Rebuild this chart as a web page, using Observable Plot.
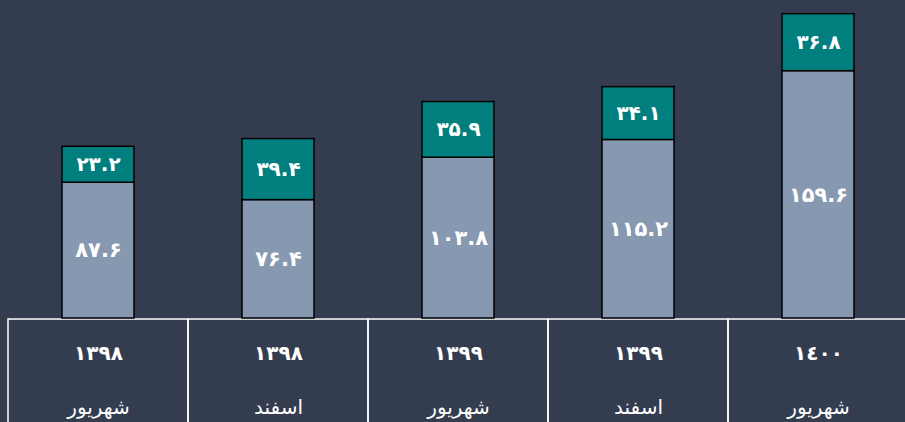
<!DOCTYPE html>
<html>
<head>
<meta charset="utf-8">
<script src="https://cdn.jsdelivr.net/npm/d3@7"></script>
<script src="https://cdn.jsdelivr.net/npm/@observablehq/plot@0.6"></script>
<style>
  html, body { margin: 0; padding: 0; background: #343d4f; overflow: hidden; }
  #chart svg { display: block; }
</style>
</head>
<body>
<div id="chart"></div>
<script>
const years = ["۱۳۹۸", "۱۳۹۸", "۱۳۹۹", "۱۳۹۹", "١٤٠٠"];
const months = ["شهریور", "اسفند", "شهریور", "اسفند", "شهریور"];
const lowerValues = [87.6, 76.4, 103.8, 115.2, 159.6];
const upperValues = [23.2, 39.4, 35.9, 34.1, 36.8];

const fa = (v) => v.toFixed(1).replace(/[0-9]/g, d => "۰۱۲۳۴۵۶۷۸۹"[d]);

const data = years.map((y, i) => ({
  key: i + "-" + y + "-" + months[i],
  year: y,
  month: months[i],
  lower: lowerValues[i],
  upper: upperValues[i],
  total: lowerValues[i] + upperValues[i]
}));
const keys = data.map(d => d.key);

const font = "DejaVu Sans, sans-serif";

const chart = Plot.plot({
  width: 905,
  height: 422,
  margin: 0,
  style: { background: "#343d4f", fontFamily: font },
  x: { type: "band", domain: keys, range: [8, 908], paddingInner: 0.6, paddingOuter: 0.3, axis: null },
  y: { domain: [-67.1, 205.2], range: [422, 0], axis: null },
  marks: [
    // table cells
    Plot.barY(data, {
      x: "key", y1: -0.65, y2: -120,
      fill: "none", stroke: "#ffffff", strokeWidth: 1.5,
      insetLeft: -54, insetRight: -54
    }),
    // lower segment
    Plot.barY(data, {
      x: "key", y1: 0, y2: "lower",
      fill: "#8798b1", stroke: "#000000", strokeWidth: 1.5
    }),
    // upper segment
    Plot.barY(data, {
      x: "key", y1: "lower", y2: "total",
      fill: "#007f7e", stroke: "#000000", strokeWidth: 1.5
    }),
    Plot.text(data, {
      x: "key", y: d => d.lower / 2, text: d => fa(d.lower),
      fill: "#ffffff", fontSize: 21, fontWeight: "bold", fontFamily: font
    }),
    Plot.text(data, {
      x: "key", y: d => d.lower + d.upper / 2, text: d => fa(d.upper),
      fill: "#ffffff", fontSize: 20, fontWeight: "bold", fontFamily: font
    }),
    Plot.text(data, {
      x: "key", y: 0, dy: 35, text: "year",
      fill: "#ffffff", fontSize: 20, fontWeight: "bold", fontFamily: font
    }),
    Plot.text(data, {
      x: "key", y: 0, dy: 89, text: "month",
      fill: "#ffffff", fontSize: 20, fontWeight: "normal", fontFamily: font
    })
  ]
});
document.getElementById("chart").appendChild(chart);
</script>
</body>
</html>
